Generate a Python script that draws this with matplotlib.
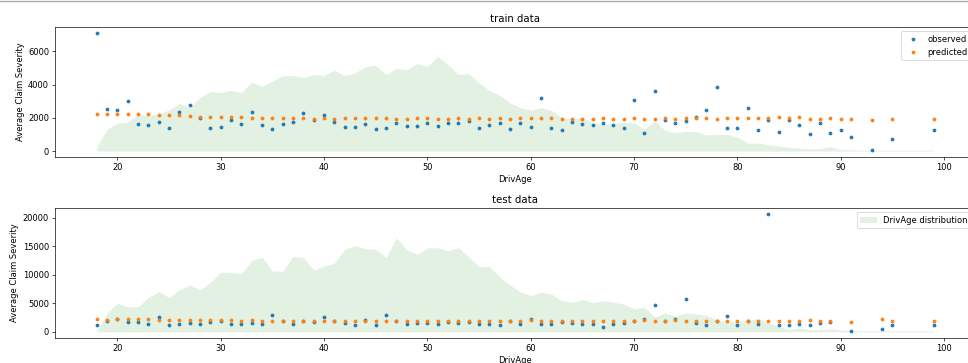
import matplotlib.pyplot as plt
from matplotlib.lines import Line2D

# Edades del conductor con siniestros en train / test
ages_train = list(range(18, 92)) + [93, 95, 99]
ages_test = list(range(18, 90)) + [91, 94, 95, 99]
ages_dist = list(range(18, 100))

# Severidad media observada y predicha (train)
train_obs = [7100, 2550, 2470, 3000, 1620, 1580, 1720, 1380, 2320, 2750,
             1980, 1400, 1440, 1880, 1640, 2320, 1540, 1320, 1620, 1720,
             2280, 1840, 2180, 1740, 1440, 1440, 1620, 1340, 1400, 1660,
             1480, 1520, 1700, 1480, 1680, 1700, 1800, 1400, 1580, 1700,
             1320, 1700, 1420, 3210, 1360, 1260, 1740, 1620, 1540, 1660,
             1580, 1380, 3070, 1100, 3610, 1880, 1700, 1780, 2040, 2470,
             3870, 1400, 1380, 2610, 1260, 1860, 1160, 1840, 1580, 1020,
             1660, 1060, 1260, 860, 80, 740, 1260]
train_pred = [2220, 2250, 2250, 2250, 2220, 2220, 2180, 2140, 2140, 2100,
              2060, 2060, 2060, 2020, 2040, 2000, 2000, 2000, 2000, 2000,
              1980, 1940, 1980, 1940, 1960, 1960, 1960, 1960, 1960, 1920,
              1920, 1960, 1960, 1920, 1920, 1960, 1920, 1960, 1940, 1980,
              1940, 1980, 1980, 1980, 1980, 1940, 1920, 1940, 1940, 1960,
              1940, 1940, 1980, 1940, 1940, 1980, 1940, 1980, 2000, 1980,
              1940, 1980, 1980, 1980, 1960, 1980, 2060, 1980, 2020, 1940,
              1940, 1980, 1940, 1940, 1880, 1920, 1920]

# Severidad media observada y predicha (test)
test_obs = [1270, 1850, 2300, 1730, 1730, 1380, 2540, 1210, 1330, 1560,
            1330, 1670, 1850, 1440, 1440, 1560, 1330, 3000, 1850, 1330,
            1960, 1670, 2600, 1960, 1560, 1210, 2140, 1210, 3000, 1960,
            1380, 1500, 1620, 1440, 1670, 1500, 1670, 1380, 1440, 1210,
            1850, 1330, 2190, 1330, 1330, 1670, 1500, 1330, 1330, 920,
            1330, 1560, 1850, 2250, 4620, 1850, 2250, 5730, 1560, 1150,
            1850, 2830, 1210, 1850, 1330, 20700, 1210, 1210, 1330, 1210,
            1560, 1790, 100, 450, 1210, 1150]
test_pred = [2250, 2140, 2250, 2250, 2250, 2250, 2140, 2140, 2140, 2140,
             2020, 2020, 2020, 2020, 1900, 2020, 1900, 1900, 1900, 1900,
             1960, 1900, 1900, 1960, 1900, 1900, 1900, 1900, 1900, 1960,
             1900, 1900, 1900, 1900, 1900, 1900, 1900, 1900, 1900, 1900,
             1900, 1900, 2020, 1900, 1900, 1900, 1960, 1900, 1900, 1900,
             1900, 1900, 1900, 2020, 1960, 1900, 2080, 1960, 1900, 1900,
             1900, 1960, 1900, 1900, 1960, 1960, 1900, 1850, 1900, 2080,
             1850, 1960, 1790, 2190, 1960, 1960]

# Distribucion de DrivAge (reescalada al eje de severidad)
train_dist = [250, 1320, 1680, 1740, 2180, 2150, 2230, 2480, 2870, 2650,
              3230, 3580, 3530, 3650, 3520, 4150, 3880, 4200, 4540, 4530,
              4410, 4610, 4550, 4870, 4530, 4710, 5070, 5150, 4610, 4970,
              4890, 5270, 5070, 5690, 5190, 4610, 4660, 4100, 3650, 3350,
              2890, 2620, 2460, 2620, 2460, 2000, 1940, 2000, 1720, 1580,
              1680, 1730, 1690, 1320, 1830, 1240, 1100, 1210, 1170, 970,
              1000, 1010, 850, 480, 480, 380, 300, 220, 180, 140,
              160, 260, 100, 80, 60, 55, 50, 50, 50, 50,
              50, 50]
test_dist = [150, 3300, 5030, 4400, 4420, 6040, 7050, 6010, 7400, 8210,
             7340, 8680, 10470, 10400, 10240, 12520, 13070, 10670, 10640, 13280,
             13020, 10815, 11540, 12060, 14520, 15120, 14580, 14460, 13050, 16510,
             14400, 13620, 14720, 14780, 14230, 14750, 13130, 11455, 11455, 9650,
             8210, 7000, 6360, 6940, 6650, 5435, 5210, 5660, 5140, 5435,
             5210, 4860, 4045, 4340, 2600, 3300, 2780, 3300, 3125, 2880,
             2080, 1790, 1790, 1960, 2310, 1560, 980, 400, 690, 400,
             400, 570, 280, 200, 180, 170, 170, 170, 170, 170,
             170, 170]

dpi = 60.5
fig = plt.figure(figsize=(968 / dpi, 363 / dpi), dpi=dpi)

# linea gris superior (borde de la celda)
fig.add_artist(Line2D([0, 1], [0.998, 0.998], color='#a8a8a8', lw=1.6))

ax1 = fig.add_axes([0.0568, 0.5675, 0.951, 0.358])
ax2 = fig.add_axes([0.0568, 0.0697, 0.951, 0.3573])

paneles = [
    (ax1, 'train data', ages_train, train_obs, train_pred, train_dist),
    (ax2, 'test data', ages_test, test_obs, test_pred, test_dist),
]

for ax, titulo, ages, obs, pred, dist in paneles:
    ax.fill_between(ages_dist, dist, color='green', alpha=0.11, lw=0,
                    label='DrivAge distribution')
    ax.plot(ages, obs, '.', color='C0', ms=7, label='observed')
    ax.plot(ages, pred, '.', color='C1', ms=7, label='predicted')
    ax.set_title(titulo)
    ax.set_xlabel('DrivAge')
    ax.set_ylabel('Average Claim Severity')

# leyendas: puntos arriba, distribucion abajo
h, l = ax1.get_legend_handles_labels()
ax1.legend(h[1:], l[1:], loc='upper right')
h, l = ax2.get_legend_handles_labels()
ax2.legend(h[:1], l[:1], loc='upper right')

fig.savefig('out.png', dpi=dpi)
